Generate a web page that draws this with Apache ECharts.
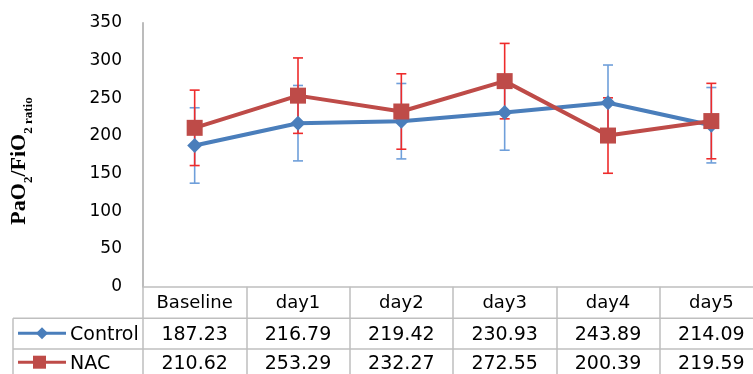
<!DOCTYPE html>
<html>
<head>
<meta charset="utf-8">
<script src="https://cdn.jsdelivr.net/npm/echarts@6/dist/echarts.min.js"></script>
<style>html,body{margin:0;padding:0;background:#fff;}#c{width:753px;height:374px;}</style>
</head>
<body>
<div id="c"></div>
<script>
const categories = ['Baseline', 'day1', 'day2', 'day3', 'day4', 'day5'];
const controlValues = [187.23, 216.79, 219.42, 230.93, 243.89, 214.09];
const nacValues = [210.62, 253.29, 232.27, 272.55, 200.39, 219.59];
const controlError = [50, 50, 50, 50, 50, 50];
const nacError = [50, 50, 50, 50, 50, 50];
const yMin = 0, yMax = 350, yInterval = 50;

const BLUE = '#4A7EBB', RED = '#BE4B48';
const BLUE_ERR = '#6F9FDA', RED_ERR = '#EE2B2B';
const GRID_LINE = '#BFBFBF';
const FONT = 'DejaVu Sans';

function errData(vals, errs) {
  return vals.map((v, i) => [i, v - errs[i], v + errs[i]]);
}
function errSeries(name, vals, errs, color, z) {
  return {
    type: 'custom', name: name, z: z, silent: true,
    data: errData(vals, errs),
    encode: { x: 0, y: [1, 2] },
    renderItem: function (params, api) {
      const lo = api.coord([api.value(0), api.value(1)]);
      const hi = api.coord([api.value(0), api.value(2)]);
      const hw = 5;
      const st = { stroke: color, lineWidth: 1.6 };
      return {
        type: 'group', children: [
          { type: 'line', shape: { x1: lo[0], y1: lo[1], x2: hi[0], y2: hi[1] }, style: st },
          { type: 'line', shape: { x1: lo[0] - hw, y1: lo[1], x2: lo[0] + hw, y2: lo[1] }, style: st },
          { type: 'line', shape: { x1: hi[0] - hw, y1: hi[1], x2: hi[0] + hw, y2: hi[1] }, style: st }
        ]
      };
    }
  };
}

const chart = echarts.init(document.getElementById('c'), null, { renderer: 'canvas' });
chart.setOption({
  animation: false,
  backgroundColor: '#fff',
  grid: { left: 143, top: 22.7, width: 620, height: 264, outerBoundsMode: 'none', containLabel: false },
  xAxis: {
    type: 'category', data: categories, boundaryGap: true,
    axisLine: { show: true, lineStyle: { color: GRID_LINE, width: 1.5 } },
    axisTick: { show: true, length: 100, lineStyle: { color: GRID_LINE, width: 1.5 } },
    axisLabel: { color: '#000', fontFamily: FONT, fontSize: 18, margin: 8 },
    splitLine: { show: false }
  },
  yAxis: {
    type: 'value', min: yMin, max: yMax, interval: yInterval,
    axisLine: { show: true, lineStyle: { color: '#A6A6A6', width: 1.5 } },
    axisTick: { show: false },
    splitLine: { show: false },
    axisLabel: { color: '#000', fontFamily: FONT, fontSize: 17, margin: 21 }
  },
  series: [
    errSeries('Control err', controlValues, controlError, BLUE_ERR, 2),
    errSeries('NAC err', nacValues, nacError, RED_ERR, 3),
    {
      name: 'Control', type: 'line', data: controlValues, z: 4,
      symbol: 'diamond', symbolSize: 15,
      lineStyle: { color: BLUE, width: 4 }, itemStyle: { color: BLUE }
    },
    {
      name: 'NAC', type: 'line', data: nacValues, z: 5,
      symbol: 'rect', symbolSize: 16,
      lineStyle: { color: RED, width: 4 }, itemStyle: { color: RED }
    }
  ]
});

// Build data table under the axis
const yBase = chart.convertToPixel({ yAxisIndex: 0 }, yMin);
const xLeftTable = 13, xRight = 780;
const row1Top = yBase + 31.6, row2Top = yBase + 62.3;
const row1Mid = yBase + 48, row2Mid = yBase + 77;
const g = [];
g.push({ type: 'line', shape: { x1: xLeftTable, y1: row1Top, x2: xRight, y2: row1Top }, style: { stroke: GRID_LINE, lineWidth: 1.5 } });
g.push({ type: 'line', shape: { x1: xLeftTable, y1: row2Top, x2: xRight, y2: row2Top }, style: { stroke: GRID_LINE, lineWidth: 1.5 } });
g.push({ type: 'line', shape: { x1: xLeftTable, y1: row1Top, x2: xLeftTable, y2: 380 }, style: { stroke: GRID_LINE, lineWidth: 1.5 } });
categories.forEach((c, i) => {
  const x = chart.convertToPixel({ xAxisIndex: 0 }, i);
  g.push({ type: 'text', x: x, y: row1Mid, style: { text: controlValues[i].toFixed(2), fill: '#000', font: '19px "DejaVu Sans"', align: 'center', verticalAlign: 'middle' } });
  g.push({ type: 'text', x: x, y: row2Mid, style: { text: nacValues[i].toFixed(2), fill: '#000', font: '19px "DejaVu Sans"', align: 'center', verticalAlign: 'middle' } });
});
// legend keys
const k1 = row1Mid - 1.5, k2 = row2Mid - 1.5;
g.push({ type: 'line', shape: { x1: 18, y1: k1, x2: 66, y2: k1 }, style: { stroke: BLUE, lineWidth: 3 } });
g.push({ type: 'polygon', shape: { points: [[42, k1 - 6], [48, k1], [42, k1 + 6], [36, k1]] }, style: { fill: BLUE } });
g.push({ type: 'text', x: 70, y: row1Mid, style: { text: 'Control', fill: '#000', font: '19px "DejaVu Sans"', align: 'left', verticalAlign: 'middle' } });
g.push({ type: 'line', shape: { x1: 18, y1: k2, x2: 66, y2: k2 }, style: { stroke: RED, lineWidth: 3 } });
g.push({ type: 'rect', shape: { x: 33, y: k2 - 6.5, width: 13, height: 13 }, style: { fill: RED } });
g.push({ type: 'text', x: 70, y: row2Mid, style: { text: 'NAC', fill: '#000', font: '19px "DejaVu Sans"', align: 'left', verticalAlign: 'middle' } });
// y-axis title
g.push({
  type: 'text', x: 24, y: 161, rotation: Math.PI / 2,
  style: {
    text: '{m|PaO}{s|2}{m|/FiO}{s|2}{s| ratio}',
    align: 'center', verticalAlign: 'middle', fill: '#000',
    rich: {
      m: { fontFamily: 'Liberation Serif', fontWeight: 'bold', fontSize: 22, lineHeight: 22, padding: [0, 0, 5, 0], verticalAlign: 'bottom', fill: '#000' },
      s: { fontFamily: 'Liberation Serif', fontWeight: 'bold', fontSize: 13, lineHeight: 13, verticalAlign: 'bottom', fill: '#000' }
    }
  }
});
chart.setOption({ graphic: g });
</script>
</body>
</html>
